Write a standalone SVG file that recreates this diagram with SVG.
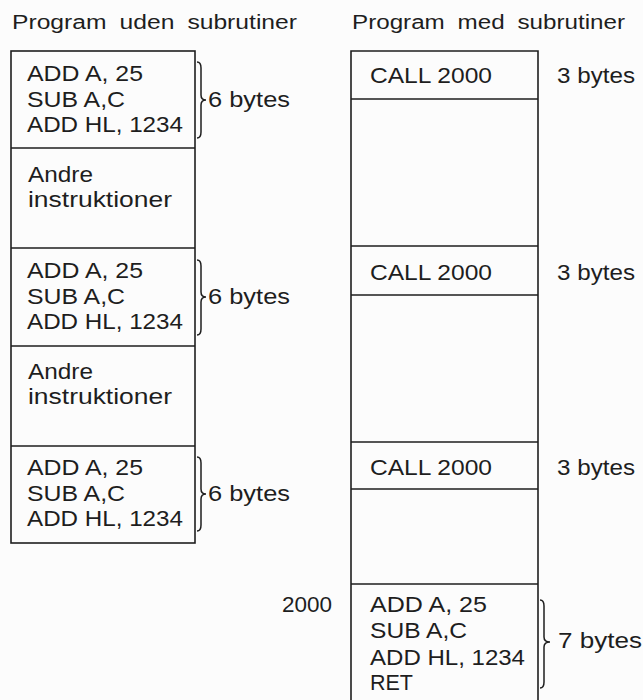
<svg xmlns="http://www.w3.org/2000/svg" width="643" height="700" viewBox="0 0 643 700">
<style>
.bg{fill:#fcfcfc}
.box{fill:none;stroke:#1e1e1e;stroke-width:1.6}
.ln{stroke:#1e1e1e;stroke-width:1.6}
.br{fill:none;stroke:#1e1e1e;stroke-width:1.5}
text{font-family:"Liberation Sans",Arial,sans-serif;font-size:21.5px;fill:#1e1e1e}
.t{font-size:20px;word-spacing:5px}
</style>
<rect class="bg" x="0" y="0" width="643" height="700"/>
<g id="titles">
<text class="t" x="12" y="29" textLength="285" lengthAdjust="spacingAndGlyphs">Program uden subrutiner</text>
<text class="t" x="352" y="29" textLength="273" lengthAdjust="spacingAndGlyphs">Program med subrutiner</text>
</g>
<g id="left-program">
<rect class="box" x="11" y="51" width="184" height="492"/>
<line class="ln" x1="11" y1="148" x2="195" y2="148"/>
<line class="ln" x1="11" y1="248" x2="195" y2="248"/>
<line class="ln" x1="11" y1="346" x2="195" y2="346"/>
<line class="ln" x1="11" y1="446" x2="195" y2="446"/>
</g>
<g id="left-block-1">
<text x="27" y="81" textLength="116" lengthAdjust="spacingAndGlyphs">ADD A, 25</text>
<text x="27" y="107" textLength="98" lengthAdjust="spacingAndGlyphs">SUB A,C</text>
<text x="27" y="132" textLength="156" lengthAdjust="spacingAndGlyphs">ADD HL, 1234</text>
<text x="208" y="107" textLength="82" lengthAdjust="spacingAndGlyphs">6 bytes</text>
</g>
<g id="left-other-1">
<text x="28" y="182" textLength="65" lengthAdjust="spacingAndGlyphs">Andre</text>
<text x="28" y="207" textLength="144" lengthAdjust="spacingAndGlyphs">instruktioner</text>
</g>
<g id="left-block-2">
<text x="27" y="278" textLength="116" lengthAdjust="spacingAndGlyphs">ADD A, 25</text>
<text x="27" y="304" textLength="98" lengthAdjust="spacingAndGlyphs">SUB A,C</text>
<text x="27" y="329" textLength="156" lengthAdjust="spacingAndGlyphs">ADD HL, 1234</text>
<text x="208" y="304" textLength="82" lengthAdjust="spacingAndGlyphs">6 bytes</text>
</g>
<g id="left-other-2">
<text x="28" y="379" textLength="65" lengthAdjust="spacingAndGlyphs">Andre</text>
<text x="28" y="404" textLength="144" lengthAdjust="spacingAndGlyphs">instruktioner</text>
</g>
<g id="left-block-3">
<text x="27" y="475" textLength="116" lengthAdjust="spacingAndGlyphs">ADD A, 25</text>
<text x="27" y="501" textLength="98" lengthAdjust="spacingAndGlyphs">SUB A,C</text>
<text x="27" y="526" textLength="156" lengthAdjust="spacingAndGlyphs">ADD HL, 1234</text>
<text x="208" y="501" textLength="82" lengthAdjust="spacingAndGlyphs">6 bytes</text>
</g>
<g id="right-program">
<path class="box" d="M351 702 V51 H538 V702"/>
<line class="ln" x1="351" y1="99" x2="538" y2="99"/>
<line class="ln" x1="351" y1="246" x2="538" y2="246"/>
<line class="ln" x1="351" y1="295" x2="538" y2="295"/>
<line class="ln" x1="351" y1="442" x2="538" y2="442"/>
<line class="ln" x1="351" y1="489" x2="538" y2="489"/>
<line class="ln" x1="351" y1="584" x2="538" y2="584"/>
</g>
<g id="call-1">
<text x="370" y="83" textLength="122" lengthAdjust="spacingAndGlyphs">CALL 2000</text>
<text x="557" y="83" textLength="78" lengthAdjust="spacingAndGlyphs">3 bytes</text>
</g>
<g id="call-2">
<text x="370" y="280" textLength="122" lengthAdjust="spacingAndGlyphs">CALL 2000</text>
<text x="557" y="280" textLength="78" lengthAdjust="spacingAndGlyphs">3 bytes</text>
</g>
<g id="call-3">
<text x="370" y="475" textLength="122" lengthAdjust="spacingAndGlyphs">CALL 2000</text>
<text x="557" y="475" textLength="78" lengthAdjust="spacingAndGlyphs">3 bytes</text>
</g>
<g id="subroutine">
<text x="282" y="612" textLength="50" lengthAdjust="spacingAndGlyphs">2000</text>
<text x="370" y="612" textLength="117" lengthAdjust="spacingAndGlyphs">ADD A, 25</text>
<text x="370" y="638" textLength="97" lengthAdjust="spacingAndGlyphs">SUB A,C</text>
<text x="370" y="665" textLength="155" lengthAdjust="spacingAndGlyphs">ADD HL, 1234</text>
<text x="370" y="690">RET</text>
<text x="558" y="648" textLength="84" lengthAdjust="spacingAndGlyphs">7 bytes</text>
</g>
<g id="connectors">
<path class="br" d="M197 62 Q201 62 201 68 L201 95 Q201 100 206 100 Q201 100 201 105 L201 132 Q201 138 197 138"/>
<path class="br" d="M197 260 Q201 260 201 266 L201 292 Q201 297 206 297 Q201 297 201 302 L201 329 Q201 335 197 335"/>
<path class="br" d="M197 457 Q201 457 201 463 L201 489 Q201 494 206 494 Q201 494 201 499 L201 525 Q201 531 197 531"/>
<path class="br" d="M540 600 Q544 600 544 606 L544 637 Q544 642 550 642 Q544 642 544 647 L544 682 Q544 688 540 688"/>
</g>
</svg>
